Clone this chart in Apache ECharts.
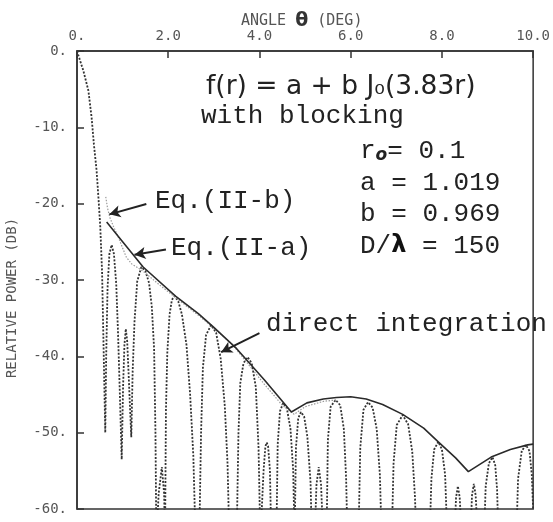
<!DOCTYPE html>
<html>
<head>
<meta charset="utf-8">
<script src="https://cdn.jsdelivr.net/npm/echarts@6/dist/echarts.min.js"></script>
<style>
html,body{margin:0;padding:0;background:#fff;}
#chart{width:553px;height:522px;}
</style>
</head>
<body>
<div id="chart"></div>
<script>
// ---- tick labels ----
const xTickValues = [0, 2, 4, 6, 8, 10];
const xTickLabels = ['0.', '2.0', '4.0', '6.0', '8.0', '10.0'];
const yTickValues = [0, -10, -20, -30, -40, -50, -60];
const yTickLabels = ['0.', '-10.', '-20.', '-30.', '-40.', '-50.', '-60.'];

// ---- direct integration (dotted), [angle deg, relative power dB] ----
const directIntegration = [
  [0,0],[0.14,-2.6],[0.25,-5.2],[0.32,-8.7],[0.37,-12.2],[0.43,-15.7],[0.47,-19.2],[0.51,-23],[0.55,-29],[0.58,-38],[0.6,-44],[0.62,-50],
  [0.64,-40],[0.67,-31],[0.71,-26.6],[0.76,-25.4],[0.81,-26.6],[0.86,-30.5],[0.9,-37],[0.94,-45],[0.98,-53.5],
  [1.01,-44],[1.04,-38.5],[1.07,-36.4],[1.1,-38],[1.14,-43.5],[1.19,-50.6],
  [1.22,-42],[1.26,-35.5],[1.32,-30.2],[1.41,-28.3],[1.5,-28.8],[1.58,-30.4],[1.64,-33.5],[1.69,-39],[1.72,-50],[1.74,-64],
  [1.79,-58],[1.86,-54.5],[1.91,-58],[1.93,-64],
  [1.95,-47],[1.98,-39.5],[2.03,-34.5],[2.08,-32.6],[2.14,-32.1],[2.22,-32.8],[2.3,-34.5],[2.4,-38.5],[2.48,-45],[2.55,-53],[2.6,-64],
  [2.68,-64],[2.72,-50],[2.76,-41.5],[2.83,-37.2],[2.94,-35.9],[3.05,-36.9],[3.15,-40.3],[3.24,-46.5],[3.3,-54],[3.34,-64],
  [3.5,-64],[3.54,-50],[3.58,-43.5],[3.65,-40.9],[3.74,-40.1],[3.83,-40.9],[3.92,-44],[3.98,-52],[4.02,-64],
  [4.06,-64],[4.09,-55],[4.13,-51.8],[4.16,-51.3],[4.19,-51.8],[4.23,-55],[4.26,-64],
  [4.37,-64],[4.4,-51.5],[4.45,-47.2],[4.52,-46.1],[4.6,-46.8],[4.68,-49.5],[4.74,-55],[4.77,-64],
  [4.8,-52],[4.85,-48.1],[4.91,-47.3],[4.98,-47.9],[5.05,-50.5],[5.12,-56.5],[5.15,-64],
  [5.21,-64],[5.25,-56.8],[5.3,-54.5],[5.35,-56.8],[5.4,-64],
  [5.47,-64],[5.5,-51],[5.56,-46.6],[5.67,-45.7],[5.77,-46.4],[5.85,-49.5],[5.9,-56],[5.93,-64],
  [6.17,-64],[6.21,-52],[6.28,-47],[6.38,-46],[6.48,-46.7],[6.57,-49.5],[6.64,-55.5],[6.68,-64],
  [6.9,-64],[6.94,-54],[7.01,-49],[7.14,-47.7],[7.26,-48.9],[7.35,-52.5],[7.41,-58.5],[7.44,-64],
  [7.73,-64],[7.77,-56],[7.83,-52.2],[7.92,-51.2],[8.0,-52.2],[8.07,-55.5],[8.12,-64],
  [8.27,-64],[8.31,-58.5],[8.35,-57],[8.39,-58.5],[8.44,-64],
  [8.62,-64],[8.66,-58.2],[8.7,-56.7],[8.74,-58.2],[8.79,-64],
  [8.92,-64],[8.96,-57],[9.03,-54],[9.11,-53.2],[9.17,-54.3],[9.21,-57.5],[9.24,-64],
  [9.63,-64],[9.67,-56],[9.75,-52.4],[9.84,-51.6],[9.92,-52.4],[9.97,-55.5],[10,-60]
];

// ---- Eq.(II-a) envelope (solid) ----
const eqIIa = [
  [0.65,-22.4],[1.0,-25.0],[1.45,-28.3],[2.16,-32.1],[2.66,-34.4],[3.0,-36.2],[3.5,-39.0],[4.11,-43.1],[4.7,-47.3],
  [5.04,-46.1],[5.4,-45.6],[5.69,-45.4],[6.0,-45.3],[6.34,-45.6],[6.7,-46.3],[7.14,-47.6],[7.6,-49.4],[7.92,-51.2],
  [8.3,-53.3],[8.58,-55.1],[9.08,-53.2],[9.5,-52.2],[9.88,-51.6],[10,-51.5]
];

// ---- Eq.(II-b) (light dotted) ----
const eqIIb = [
  [0.63,-19.1],[0.67,-20.6],[0.72,-21.8],[0.8,-23.0],[0.9,-24.3],[1.0,-25.8],[1.08,-27.0],[1.2,-27.9],[1.44,-28.8],
  [1.8,-30.6],[2.16,-32.3],[2.7,-34.8],[3.4,-38.4],[4.1,-43.6],[4.5,-46.4],[4.76,-47.6],[5.0,-46.6],[5.4,-45.9],[5.7,-45.7]
];

// ---- annotation arrows: [from, to] in data coordinates ----
const arrowEqIIb = [[1.52,-20.05],[0.71,-21.4]];
const arrowEqIIa = [[1.95,-26.0],[1.26,-26.7]];
const arrowDirect = [[4.0,-36.96],[3.16,-39.45]];

const chart = echarts.init(document.getElementById('chart'), null, {renderer:'canvas'});
const mono = 'Liberation Mono';
const tickFont = 'DejaVu Sans Mono';

function arrowLine(a){
  return [{coord:a[0], symbol:'none'}, {coord:a[1], symbol:'arrow'}];
}

chart.setOption({
  backgroundColor:'#ffffff',
  animation:false,
  grid:{left:77, top:51, right:16, bottom:13, show:true, borderColor:'#333', borderWidth:1.5},
  xAxis:{
    type:'value', position:'top', min:0, max:10, interval:2,
    axisLine:{show:true, lineStyle:{color:'#333', width:1.5}},
    axisTick:{show:true, inside:true, length:7, lineStyle:{color:'#333', width:1.5}},
    axisLabel:{margin:8, color:'#555', fontFamily:tickFont, fontSize:14,
      formatter:v=>xTickLabels[xTickValues.indexOf(Math.round(v))] || ''},
    splitLine:{show:false}
  },
  yAxis:{
    type:'value', min:-60, max:0, interval:10,
    axisLine:{show:true, lineStyle:{color:'#333', width:1.5}},
    axisTick:{show:true, inside:true, length:7, lineStyle:{color:'#333', width:1.5}},
    axisLabel:{margin:10, color:'#555', fontFamily:tickFont, fontSize:14,
      formatter:v=>yTickLabels[yTickValues.indexOf(Math.round(v))] || ''},
    splitLine:{show:false}
  },
  series:[
    {type:'line', name:'direct integration', data:directIntegration, showSymbol:false, clip:true, silent:true,
      lineStyle:{color:'#333', width:1.8, type:[2,1.6]}},
    {type:'line', name:'Eq.(II-b)', data:eqIIb, showSymbol:false, clip:true, silent:true,
      lineStyle:{color:'#9a9a9a', width:1.2, type:[1.5,1.5]}},
    {type:'line', name:'Eq.(II-a)', data:eqIIa, showSymbol:false, clip:true, silent:true,
      lineStyle:{color:'#2a2a2a', width:1.6}},
    {type:'line', name:'arrows', data:[], silent:true,
      markLine:{silent:true, animation:false, symbolSize:[9,11],
        label:{show:false}, emphasis:{disabled:true},
        lineStyle:{color:'#222', width:2, type:'solid'},
        data:[arrowLine(arrowEqIIb), arrowLine(arrowEqIIa), arrowLine(arrowDirect)]}}
  ],
  graphic:[
    {type:'text', left:241, top:12, style:{
      text:'ANGLE {t|θ} (DEG)', fill:'#555', font:'15px "DejaVu Sans Mono"',
      rich:{t:{fontSize:19, fontWeight:'bold', fill:'#333', fontFamily:'DejaVu Sans'}}}},
    {type:'text', x:12, y:298, rotation:Math.PI/2, style:{
      text:'RELATIVE POWER (DB)', fill:'#555', font:'14px "DejaVu Sans Mono"', align:'center', verticalAlign:'middle'}},
    {type:'text', x:206, y:87, style:{text:'f(r) = a + b J₀(3.83r)', fill:'#222', font:'26.5px "DejaVu Sans"', verticalAlign:'middle'}},
    {type:'text', x:201, y:116, style:{text:'with blocking', fill:'#222', font:'26px "'+mono+'"', verticalAlign:'middle'}},
    {type:'text', x:360, y:151, style:{text:'r{s|o}= 0.1', fill:'#222', font:'26px "'+mono+'"', verticalAlign:'middle',
      rich:{s:{fontSize:17, fontWeight:'bold', fontStyle:'italic', fontFamily:'DejaVu Sans', verticalAlign:'bottom', fill:'#222'}}}},
    {type:'text', x:360, y:183, style:{text:'a = 1.019', fill:'#222', font:'26px "'+mono+'"', verticalAlign:'middle'}},
    {type:'text', x:360, y:214, style:{text:'b = 0.969', fill:'#222', font:'26px "'+mono+'"', verticalAlign:'middle'}},
    {type:'text', x:360, y:246, style:{text:'D/{l|λ} = 150', fill:'#222', font:'26px "'+mono+'"', verticalAlign:'middle',
      rich:{l:{fontSize:24, fontWeight:'bold', fontFamily:'DejaVu Sans', fill:'#111'}}}},
    {type:'text', x:155, y:201, style:{text:'Eq.(II-b)', fill:'#222', font:'26px "'+mono+'"', verticalAlign:'middle'}},
    {type:'text', x:171, y:248, style:{text:'Eq.(II-a)', fill:'#222', font:'26px "'+mono+'"', verticalAlign:'middle'}},
    {type:'text', x:266, y:324, style:{text:'direct integration', fill:'#222', font:'26px "'+mono+'"', verticalAlign:'middle'}}
  ]
});
</script>
</body>
</html>
